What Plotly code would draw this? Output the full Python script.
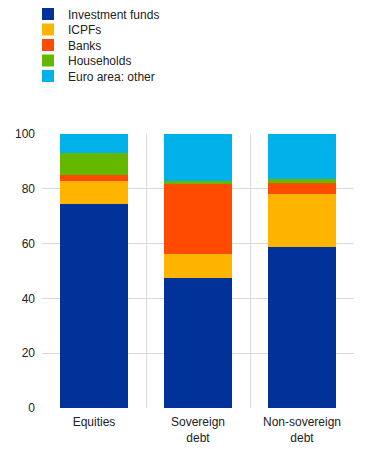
import plotly.graph_objects as go

categories = ["Equities", "Sovereign<br>debt", "Non-sovereign<br>debt"]
series_names = ["Investment funds", "ICPFs", "Banks", "Households", "Euro area: other"]
investment_funds = [74.5, 47.4, 58.8]
icpfs = [8.3, 8.8, 19.4]
banks = [2.2, 25.7, 3.9]
households = [8.0, 0.9, 1.5]
euro_area_other = [7.0, 17.2, 16.4]
colors = ["#003299", "#FFB400", "#FF4B00", "#65B800", "#00B1EA"]
y_ticks = [0, 20, 40, 60, 80, 100]

values = [investment_funds, icpfs, banks, households, euro_area_other]

W, H = 371, 449
OFF = 8  # default page body margin
legend_rows_px = [14, 29.5, 45, 60.5, 76]  # vertical centres of legend rows (page px)

fig = go.Figure()
layout_legends = {}
for i, (name, vals, col) in enumerate(zip(series_names, values, colors)):
    lname = "legend" if i == 0 else f"legend{i+1}"
    fig.add_trace(go.Bar(x=categories, y=vals, name=name, marker_color=col,
                         marker_line_width=0, legend=lname))
    layout_legends[lname] = dict(
        x=(28 - OFF) / W, y=1 - (legend_rows_px[i] - OFF) / H,
        xref="container", yref="container",
        xanchor="left", yanchor="middle", font=dict(size=12, color="#222"),
        itemwidth=30, bgcolor="rgba(0,0,0,0)")

fig.update_layout(
    barmode="stack",
    bargap=0.34,
    width=W, height=H,
    margin=dict(l=42 - OFF, r=17 + OFF, t=134 - OFF, b=41 + OFF, autoexpand=False),
    paper_bgcolor="white", plot_bgcolor="white",
    font=dict(family="Liberation Sans, Arial, sans-serif", size=12, color="#222"),
    showlegend=True,
    **layout_legends,
)
fig.update_xaxes(tickson="boundaries", showgrid=True, gridcolor="#d9d9d9",
                 gridwidth=1, ticks="", showline=False, zeroline=False,
                 tickangle=0, ticklabelstandoff=5)
fig.update_yaxes(range=[0, 100], tickvals=y_ticks, showgrid=True,
                 gridcolor="#d9d9d9", gridwidth=1, zeroline=False,
                 showline=False, ticks="", ticklabelstandoff=6)

fig.write_html("out.html")
